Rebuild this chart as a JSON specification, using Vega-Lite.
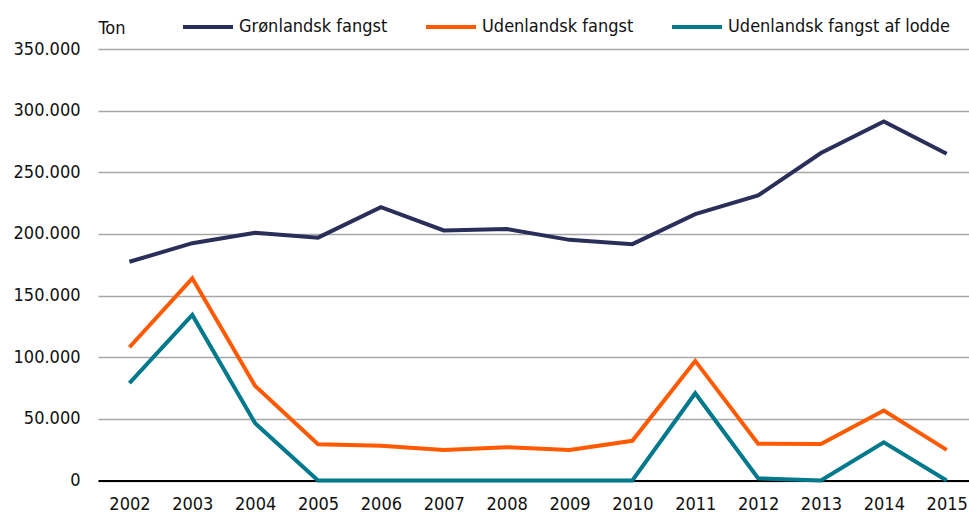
{
  "$schema": "https://vega.github.io/schema/vega-lite/v6.json",
  "width": 871,
  "height": 431.5,
  "autosize": {"type": "none"},
  "padding": {"left": 98, "top": 49, "right": 0, "bottom": 35.5},
  "background": "white",
  "config": {
    "locale": {"number": {"decimal": ",", "thousands": ".", "grouping": [3], "currency": ["", " kr."]}},
    "font": "DejaVu Sans Condensed",
    "view": {"stroke": null}
  },
  "data": {
    "values": [
      {"year": 2002, "serie": "Grønlandsk fangst", "ton": 177400},
      {"year": 2003, "serie": "Grønlandsk fangst", "ton": 192500},
      {"year": 2004, "serie": "Grønlandsk fangst", "ton": 201000},
      {"year": 2005, "serie": "Grønlandsk fangst", "ton": 197000},
      {"year": 2006, "serie": "Grønlandsk fangst", "ton": 221700},
      {"year": 2007, "serie": "Grønlandsk fangst", "ton": 202800},
      {"year": 2008, "serie": "Grønlandsk fangst", "ton": 204000},
      {"year": 2009, "serie": "Grønlandsk fangst", "ton": 195200},
      {"year": 2010, "serie": "Grønlandsk fangst", "ton": 191700},
      {"year": 2011, "serie": "Grønlandsk fangst", "ton": 216000},
      {"year": 2012, "serie": "Grønlandsk fangst", "ton": 231200},
      {"year": 2013, "serie": "Grønlandsk fangst", "ton": 265600},
      {"year": 2014, "serie": "Grønlandsk fangst", "ton": 291200},
      {"year": 2015, "serie": "Grønlandsk fangst", "ton": 265000},
      {"year": 2002, "serie": "Udenlandsk fangst", "ton": 108100},
      {"year": 2003, "serie": "Udenlandsk fangst", "ton": 164000},
      {"year": 2004, "serie": "Udenlandsk fangst", "ton": 76700},
      {"year": 2005, "serie": "Udenlandsk fangst", "ton": 29400},
      {"year": 2006, "serie": "Udenlandsk fangst", "ton": 28200},
      {"year": 2007, "serie": "Udenlandsk fangst", "ton": 24800},
      {"year": 2008, "serie": "Udenlandsk fangst", "ton": 27000},
      {"year": 2009, "serie": "Udenlandsk fangst", "ton": 24800},
      {"year": 2010, "serie": "Udenlandsk fangst", "ton": 32200},
      {"year": 2011, "serie": "Udenlandsk fangst", "ton": 97000},
      {"year": 2012, "serie": "Udenlandsk fangst", "ton": 29900},
      {"year": 2013, "serie": "Udenlandsk fangst", "ton": 29600},
      {"year": 2014, "serie": "Udenlandsk fangst", "ton": 56700},
      {"year": 2015, "serie": "Udenlandsk fangst", "ton": 24800},
      {"year": 2002, "serie": "Udenlandsk fangst af lodde", "ton": 78900},
      {"year": 2003, "serie": "Udenlandsk fangst af lodde", "ton": 134300},
      {"year": 2004, "serie": "Udenlandsk fangst af lodde", "ton": 46400},
      {"year": 2005, "serie": "Udenlandsk fangst af lodde", "ton": 0},
      {"year": 2006, "serie": "Udenlandsk fangst af lodde", "ton": 0},
      {"year": 2007, "serie": "Udenlandsk fangst af lodde", "ton": 0},
      {"year": 2008, "serie": "Udenlandsk fangst af lodde", "ton": 0},
      {"year": 2009, "serie": "Udenlandsk fangst af lodde", "ton": 0},
      {"year": 2010, "serie": "Udenlandsk fangst af lodde", "ton": 0},
      {"year": 2011, "serie": "Udenlandsk fangst af lodde", "ton": 70800},
      {"year": 2012, "serie": "Udenlandsk fangst af lodde", "ton": 1800},
      {"year": 2013, "serie": "Udenlandsk fangst af lodde", "ton": 0},
      {"year": 2014, "serie": "Udenlandsk fangst af lodde", "ton": 31000},
      {"year": 2015, "serie": "Udenlandsk fangst af lodde", "ton": 0}
    ]
  },
  "mark": {"type": "line", "strokeWidth": 4, "clip": false},
  "encoding": {
    "x": {
      "field": "year",
      "type": "quantitative",
      "scale": {"domain": [2001.5, 2015.355], "nice": false, "zero": false},
      "axis": {
        "values": [2002, 2003, 2004, 2005, 2006, 2007, 2008, 2009, 2010, 2011, 2012, 2013, 2014, 2015],
        "format": "d",
        "title": null,
        "grid": false,
        "ticks": false,
        "domain": true,
        "domainColor": "#000000",
        "domainWidth": 2,
        "labelFont": "DejaVu Sans Condensed",
        "labelFontSize": 18,
        "labelColor": "#111111",
        "labelPadding": 15,
        "labelFlush": false,
        "labelOverlap": false
      }
    },
    "y": {
      "field": "ton",
      "type": "quantitative",
      "scale": {"domain": [0, 350000], "nice": false},
      "axis": {
        "values": [0, 50000, 100000, 150000, 200000, 250000, 300000, 350000],
        "format": ",d",
        "title": "Ton",
        "titleAngle": 0,
        "titleAlign": "left",
        "titleBaseline": "alphabetic",
        "titleX": 0,
        "titleY": -16,
        "titleFont": "DejaVu Sans Condensed",
        "titleFontSize": 18,
        "titleFontWeight": "normal",
        "titleColor": "#111111",
        "grid": true,
        "gridColor": "#a6a6a6",
        "gridWidth": 1.6,
        "ticks": false,
        "domain": false,
        "labelFont": "DejaVu Sans Condensed",
        "labelFontSize": 18,
        "labelColor": "#111111",
        "labelPadding": 18
      }
    },
    "color": {
      "field": "serie",
      "type": "nominal",
      "scale": {
        "domain": ["Grønlandsk fangst", "Udenlandsk fangst", "Udenlandsk fangst af lodde"],
        "range": ["#2a2f5a", "#ff5a00", "#00798c"]
      },
      "legend": {
        "title": null,
        "orient": "none",
        "direction": "horizontal",
        "legendX": 83,
        "legendY": -49,
        "symbolType": "stroke",
        "symbolSize": 2500,
        "symbolStrokeWidth": 4,
        "labelFont": "DejaVu Sans Condensed",
        "labelFontSize": 18,
        "labelColor": "#111111",
        "labelOffset": 4,
        "columnPadding": 30,
        "labelLimit": 400
      }
    }
  }
}
